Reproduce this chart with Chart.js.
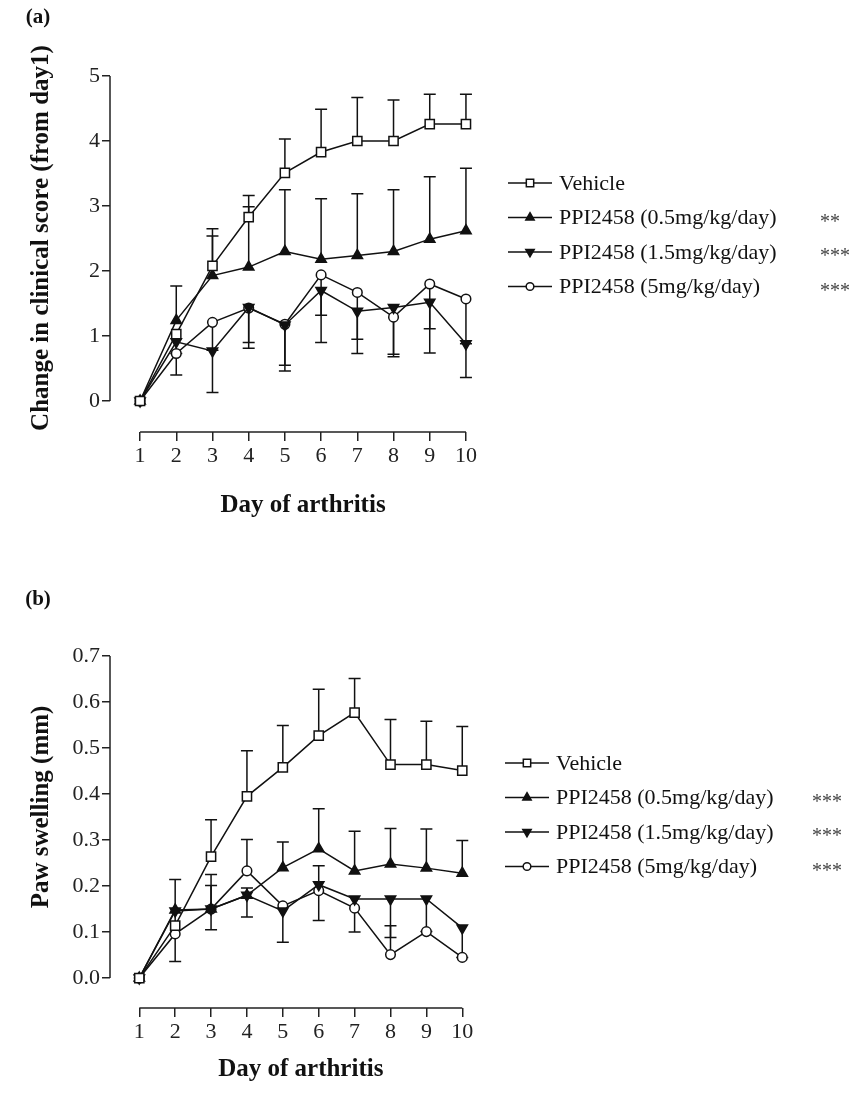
<!DOCTYPE html>
<html>
<head>
<meta charset="utf-8">
<script src="https://cdn.jsdelivr.net/npm/chart.js@4.4.1/dist/chart.umd.min.js"></script>
<style>
body { margin: 0; background: #fff; }
.panel { position: relative; width: 852px; }
</style>
</head>
<body>
<div class="panel" style="height:546px"><canvas id="chartA"></canvas></div>
<div class="panel" style="height:547px"><canvas id="chartB"></canvas></div>
<script>
var days = [1, 2, 3, 4, 5, 6, 7, 8, 9, 10];
var seriesLabels = ['Vehicle', 'PPI2458 (0.5mg/kg/day)', 'PPI2458 (1.5mg/kg/day)', 'PPI2458 (5mg/kg/day)'];
var starsA = ['', '**', '***', '***'];
var starsB = ['', '***', '***', '***'];
var yTicksA = [0, 1, 2, 3, 4, 5];
var yTicksB = [0, 0.1, 0.2, 0.3, 0.4, 0.5, 0.6, 0.7];

// (a) change in clinical score: means, and where each error bar ends (null = not visible)
var vehicleA = [0, 1.03, 2.08, 2.83, 3.51, 3.83, 4.00, 4.00, 4.26, 4.26];
var vehicleErrA = [null, null, 2.65, 3.16, 4.03, 4.49, 4.67, 4.63, 4.72, 4.72];
var low05A = [0, 1.24, 1.93, 2.06, 2.30, 2.18, 2.24, 2.30, 2.49, 2.62];
var low05ErrA = [null, 1.77, 2.54, 2.99, 3.25, 3.11, 3.19, 3.25, 3.45, 3.58];
var mid15A = [0, 0.91, 0.77, 1.44, 1.17, 1.70, 1.38, 1.44, 1.52, 0.88];
var mid15ErrA = [null, 0.73, 0.13, 0.81, 0.46, 0.90, 0.73, 0.68, 0.74, 0.36];
var high5A = [0, 0.73, 1.21, 1.43, 1.18, 1.94, 1.67, 1.29, 1.80, 1.57];
var high5ErrA = [null, 0.40, 0.78, 0.90, 0.55, 1.32, 0.95, 0.72, 1.11, 0.88];

// (b) paw swelling (mm)
var vehicleB = [0, 0.114, 0.264, 0.395, 0.458, 0.527, 0.577, 0.464, 0.464, 0.451];
var vehicleErrB = [null, null, 0.344, 0.494, 0.549, 0.628, 0.651, 0.562, 0.558, 0.547];
var low05B = [0, 0.148, 0.150, 0.180, 0.240, 0.281, 0.233, 0.248, 0.239, 0.228];
var low05ErrB = [null, 0.214, 0.225, 0.196, 0.296, 0.368, 0.319, 0.325, 0.324, 0.299];
var mid15B = [0, 0.146, 0.150, 0.180, 0.146, 0.203, 0.172, 0.172, 0.172, 0.109];
var mid15ErrB = [null, 0.036, 0.105, 0.133, 0.078, 0.125, 0.100, 0.088, 0.101, 0.045];
var high5B = [0, 0.096, 0.150, 0.233, 0.157, 0.190, 0.152, 0.051, 0.101, 0.045];
var high5ErrB = [null, null, 0.201, 0.301, null, 0.244, null, 0.114, null, null];

var FONT = "'Liberation Serif', 'Times New Roman', serif";
var INK = '#111';

var markers = [
    { style: 'rect', rot: 0, r: 6.5, bg: '#fff' },
    { style: 'triangle', rot: 0, r: 6, bg: INK },
    { style: 'triangle', rot: 180, r: 6, bg: INK },
    { style: 'circle', rot: 0, r: 4.8, bg: '#fff' }
];

function makeDatasets(means, errs) {
    return means.map(function (m, k) {
        var mk = markers[k];
        return {
            label: seriesLabels[k],
            data: days.map(function (d, i) { return { x: d, y: m[i] }; }),
            errEnd: errs[k],
            borderColor: INK,
            borderWidth: 1.5,
            pointStyle: mk.style,
            pointRotation: mk.rot,
            pointRadius: mk.r,
            pointBackgroundColor: mk.bg,
            pointBorderColor: INK,
            pointBorderWidth: 1.5,
            tension: 0,
            fill: false
        };
    });
}

var prismPlugin = {
    id: 'prism',
    beforeDatasetsDraw: function (chart) {
        var ctx = chart.ctx, xs = chart.scales.x, ys = chart.scales.y;
        ctx.save();
        ctx.strokeStyle = INK;
        ctx.lineWidth = 1.5;
        chart.data.datasets.forEach(function (ds) {
            ds.data.forEach(function (p, i) {
                var e = ds.errEnd[i];
                if (e === null || e === undefined) return;
                var px = xs.getPixelForValue(p.x);
                var y0 = ys.getPixelForValue(p.y);
                var y1 = ys.getPixelForValue(e);
                ctx.beginPath();
                ctx.moveTo(px, y0); ctx.lineTo(px, y1);
                ctx.moveTo(px - 6, y1); ctx.lineTo(px + 6, y1);
                ctx.stroke();
            });
        });
        ctx.restore();
    },
    afterDraw: function (chart, args, opts) {
        var ctx = chart.ctx, xs = chart.scales.x, ys = chart.scales.y, area = chart.chartArea;
        var yt = opts.yTicks;
        ctx.save();
        // axis lines, Prism style (y stops at 0, x spans first..last day)
        ctx.strokeStyle = '#222';
        ctx.lineWidth = 1.5;
        ctx.beginPath();
        ctx.moveTo(area.left, ys.getPixelForValue(yt[yt.length - 1]));
        ctx.lineTo(area.left, ys.getPixelForValue(yt[0]));
        ctx.moveTo(xs.getPixelForValue(days[0]), area.bottom);
        ctx.lineTo(xs.getPixelForValue(days[days.length - 1]), area.bottom);
        ctx.stroke();

        ctx.fillStyle = '#111';
        // panel letter
        ctx.font = 'bold 21px ' + FONT;
        ctx.textAlign = 'center';
        ctx.textBaseline = 'middle';
        ctx.fillText(opts.panel, 38, opts.panelY);

        // x title
        ctx.font = 'bold 25px ' + FONT;
        var xc = (xs.getPixelForValue(days[0]) + xs.getPixelForValue(days[days.length - 1])) / 2;
        ctx.fillText(opts.xTitle, xc, area.bottom + opts.xTitleOffset);

        // y title
        ctx.save();
        ctx.translate(42, opts.yTitleCenter);
        ctx.rotate(-Math.PI / 2);
        ctx.fillText(opts.yTitle, 0, 0);
        ctx.restore();

        // legend
        ctx.textAlign = 'left';
        chart.data.datasets.forEach(function (ds, k) {
            var y = opts.legendY + k * opts.legendStep;
            var lx = opts.legendX;
            ctx.strokeStyle = INK;
            ctx.lineWidth = 1.5;
            ctx.beginPath();
            ctx.moveTo(lx, y); ctx.lineTo(lx + 44, y);
            ctx.stroke();
            ctx.fillStyle = markers[k].bg;
            Chart.helpers.drawPoint(ctx, {
                pointStyle: markers[k].style,
                rotation: markers[k].rot,
                radius: markers[k].r * 0.8,
                borderWidth: 1.5
            }, lx + 22, y);
            ctx.fillStyle = '#111';
            ctx.font = '22px ' + FONT;
            ctx.fillText(ds.label, lx + 51, y + 1);
            if (opts.stars[k]) {
                ctx.fillStyle = '#444';
                ctx.font = '20px ' + FONT;
                ctx.fillText(opts.stars[k], opts.starX, y + 5);
            }
        });
        ctx.restore();
    }
};

function makeChart(id, cfg) {
    return new Chart(document.getElementById(id), {
        type: 'line',
        data: { datasets: makeDatasets(cfg.means, cfg.errs) },
        options: {
            responsive: true,
            maintainAspectRatio: false,
            animation: false,
            layout: { padding: { top: cfg.top, right: 356, left: 0, bottom: 0 } },
            scales: {
                x: {
                    type: 'linear',
                    min: cfg.xMin,
                    max: cfg.xMax,
                    afterBuildTicks: function (s) { s.ticks = days.map(function (v) { return { value: v }; }); },
                    afterFit: function (s) { s.height = cfg.bottomH; },
                    border: { display: false },
                    grid: { drawOnChartArea: false, drawTicks: true, tickLength: 9, color: '#222', lineWidth: 1.5 },
                    ticks: { color: '#222', font: { family: FONT, size: 22 }, padding: 2, maxRotation: 0 }
                },
                y: {
                    min: cfg.yMin,
                    max: cfg.yMax,
                    afterBuildTicks: function (s) { s.ticks = cfg.yTicks.map(function (v) { return { value: v }; }); },
                    afterFit: function (s) { s.width = 110; },
                    border: { display: false },
                    grid: { drawOnChartArea: false, drawTicks: true, tickLength: 8, color: '#222', lineWidth: 1.5 },
                    ticks: {
                        color: '#222', font: { family: FONT, size: 22 }, padding: 2,
                        callback: function (v) { return cfg.decimals ? Number(v).toFixed(cfg.decimals) : String(v); }
                    }
                }
            },
            plugins: {
                legend: { display: false },
                tooltip: { enabled: false },
                prism: {
                    panel: cfg.panel, panelY: cfg.panelY,
                    xTitle: 'Day of arthritis', xTitleOffset: cfg.xTitleOffset,
                    yTitle: cfg.yTitle, yTitleCenter: cfg.yTitleCenter,
                    yTicks: cfg.yTicks,
                    legendX: cfg.legendX, legendY: cfg.legendY, legendStep: 34.5,
                    stars: cfg.stars, starX: cfg.starX
                }
            }
        },
        plugins: [prismPlugin]
    });
}

makeChart('chartA', {
    means: [vehicleA, low05A, mid15A, high5A],
    errs: [vehicleErrA, low05ErrA, mid15ErrA, high5ErrA],
    top: 76, bottomH: 114,
    xMin: 0.17, xMax: 10.83,
    yMin: -0.477, yMax: 5, yTicks: yTicksA, decimals: 0,
    panel: '(a)', panelY: 18,
    yTitle: 'Change in clinical score (from day1)', yTitleCenter: 238,
    xTitleOffset: 74,
    legendX: 508, legendY: 183, stars: starsA, starX: 820
});

makeChart('chartB', {
    means: [vehicleB, low05B, mid15B, high5B],
    errs: [vehicleErrB, low05ErrB, mid15ErrB, high5ErrB],
    top: 110, bottomH: 85,
    xMin: 0.184, xMax: 10.94,
    yMin: -0.065, yMax: 0.7, yTicks: yTicksB, decimals: 1,
    panel: '(b)', panelY: 54,
    yTitle: 'Paw swelling (mm)', yTitleCenter: 261,
    xTitleOffset: 62,
    legendX: 505, legendY: 217, stars: starsB, starX: 812
});
</script>
</body>
</html>
